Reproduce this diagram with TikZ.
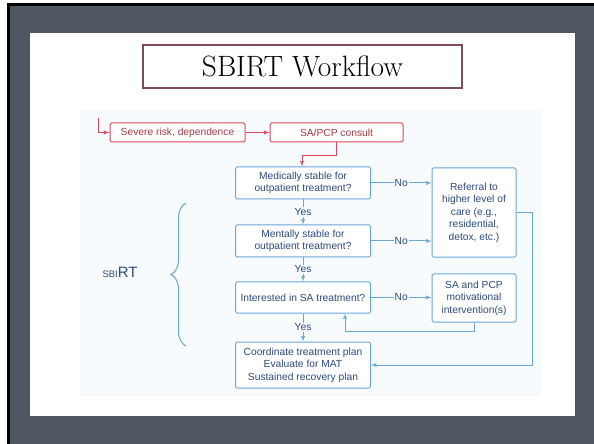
\documentclass[tikz,border=0pt]{standalone}
\usepackage{fontspec}
\usepackage{tikz}
\usetikzlibrary{arrows,decorations.pathreplacing}
\newfontfamily\flowfont{Liberation Sans}
\definecolor{slidegray}{HTML}{4D5661}
\definecolor{titleframe}{HTML}{7C4A62}
\definecolor{flowblue}{HTML}{6AA6D8}
\definecolor{flowtext}{HTML}{2E4B7B}
\definecolor{flowred}{HTML}{D9475A}
\definecolor{redtext}{HTML}{A83A46}
\definecolor{chartbg}{HTML}{F8FBFD}

\begin{document}
\begin{tikzpicture}[x=1bp, y=-1bp, >=latex',
  bluebox/.style={draw=flowblue, line width=1bp, rounded corners=1.5bp, fill=white, text=flowtext,
    font=\flowfont\fontsize{10.3}{12.5}\selectfont, align=center, inner sep=2bp},
  redbox/.style={bluebox, draw=flowred, text=redtext, minimum height=19bp},
  flowline/.style={draw=flowblue, line width=1bp, ->},
  redline/.style={draw=flowred, line width=1bp, ->},
  answer/.style={fill=chartbg, text=flowtext, font=\flowfont\fontsize{10.3}{12}\selectfont, inner sep=1bp}]
  \useasboundingbox (0,0) rectangle (594,444);
  % Slide
  \fill[white] (0,0) rectangle (594,444);
  \fill[black] (7,3) rectangle (594,444);
  \fill[slidegray] (9.5,6) rectangle (594,444);
  \fill[white] (30,33) rectangle (575,416);
  \fill[chartbg] (80,110) rectangle (541,396);

  \node (title) at (302.5,66.5) [draw=titleframe, line width=1.5bp, fill=white, minimum width=319bp,
    minimum height=43bp, font=\fontsize{29.5}{32}\selectfont] {SBIRT Workflow};

  % States
  \node (severe) at (177.5,132.5) [redbox, minimum width=135bp] {Severe risk, dependence};
  \node (consult) at (336.5,132.5) [redbox, minimum width=133bp] {SA/PCP consult};

  \node (medical) at (303,183) [bluebox, minimum width=135bp, minimum height=32bp] {Medically stable for\\outpatient treatment?};
  \node (mental) at (303,241) [bluebox, minimum width=135bp, minimum height=32bp] {Mentally stable for\\outpatient treatment?};
  \node (interested) at (303,297.5) [bluebox, minimum width=135bp, minimum height=31bp] {Interested in SA treatment?};
  \node (plan) at (303,365) [bluebox, minimum width=135bp, minimum height=46bp] {Coordinate treatment plan\\Evaluate for MAT\\Sustained recovery plan};

  \node (referral) at (474,212.5) [bluebox, minimum width=84bp, minimum height=89bp] {Referral to\\higher level of\\care (e.g.,\\residential,\\detox, etc.)};
  \node (motivation) at (474,298) [bluebox, minimum width=84bp, minimum height=48bp] {SA and PCP\\motivational\\intervention(s)};

  \node (sbirt) at (120,272) [text=flowtext, font=\flowfont] {{\fontsize{9.5}{10}\selectfont SBI}{\fontsize{15}{16}\selectfont RT}};
  \coordinate (bracelow) at (186,346);
  \coordinate (bracehigh) at (186,203);
  \draw[flowblue, line width=1bp, decorate, decoration={brace, amplitude=15bp}] (bracelow) -- (bracehigh);

  % Edges
  \coordinate (entry) at (98,118);
  \draw[redline] (entry) |- (severe.west);
  \draw[redline] (severe) to (consult);
  \draw[redline] (consult.south) -- ++(0,13) -| ([xshift=-1bp]medical.north);

  \draw[flowline] (medical) to node [answer] {Yes} (mental);
  \draw[flowline] (mental) to node [answer] {Yes} (interested);
  \draw[flowline] (interested) to node [answer] {Yes} (plan);

  \draw[flowline] (medical.east) to node [answer] {No} (medical.east -| referral.west);
  \draw[flowline] (mental.east) to node [answer] {No} (mental.east -| referral.west);
  \draw[flowline] (interested.east) to node [answer] {No} (interested.east -| motivation.west);

  \draw[flowline] (motivation.south) -- ++(0,9) -| ([xshift=42bp]interested.south);
  \draw[flowline] (referral.east) -- ++(16,0) |- (plan.east);
\end{tikzpicture}
\end{document}
